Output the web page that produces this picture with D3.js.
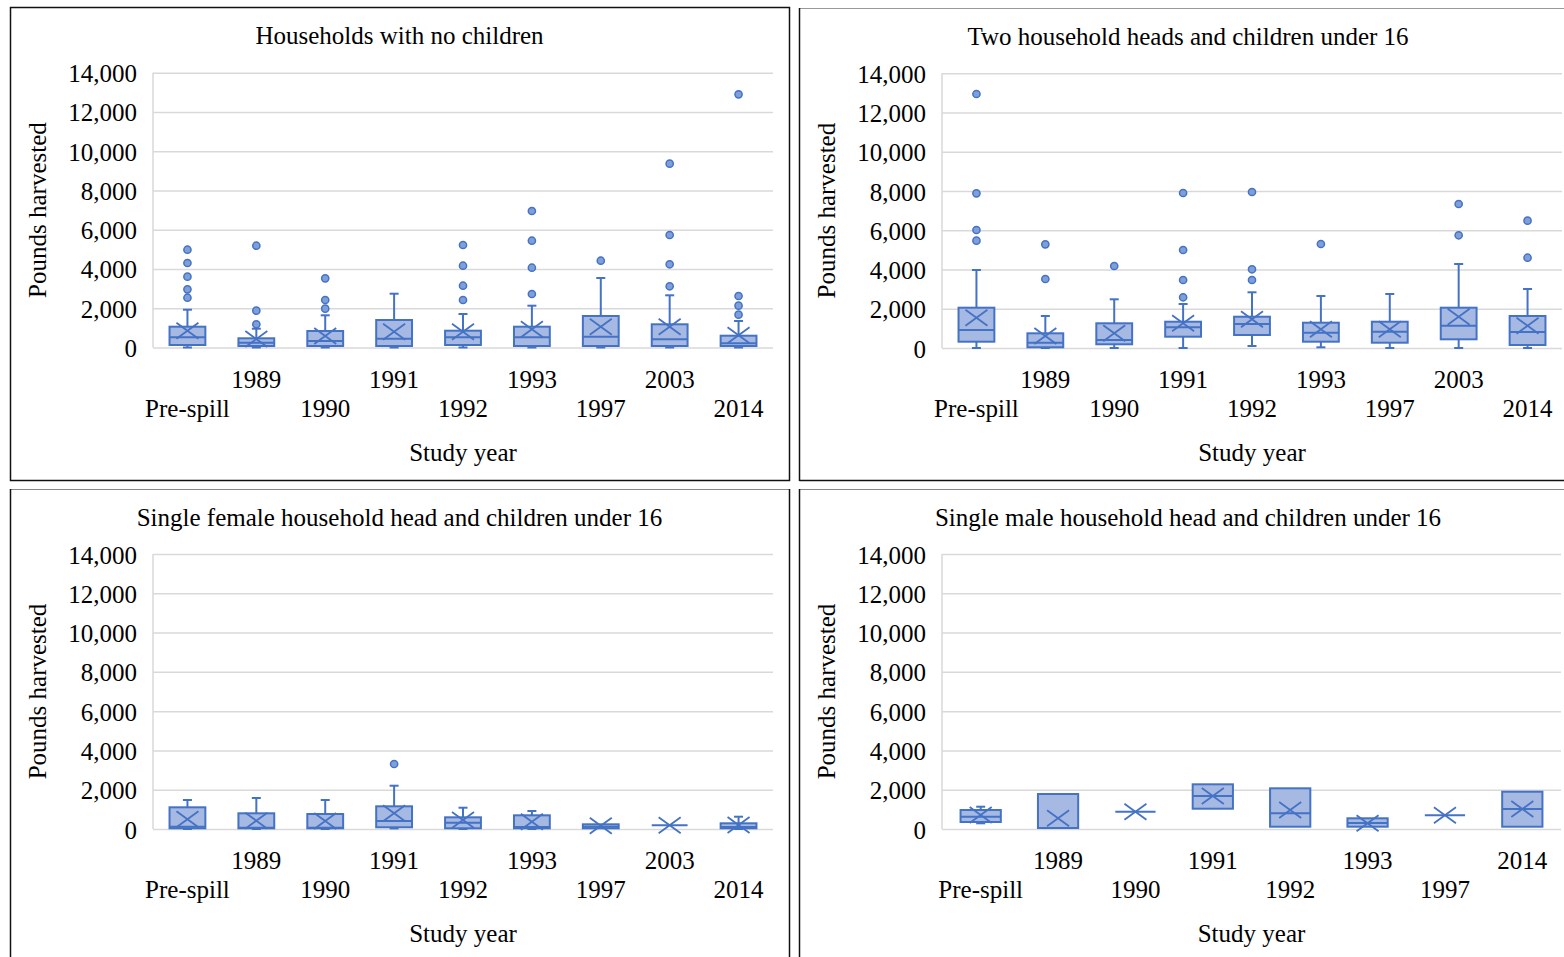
<!DOCTYPE html>
<html>
<head>
<meta charset="utf-8">
<script src="https://cdn.jsdelivr.net/npm/d3@7"></script>
<style>
  html, body { margin: 0; padding: 0; background: #fff; }
  svg { display: block; }
  text { font-family: "Liberation Serif", "Times New Roman", serif; fill: #000; }
</style>
</head>
<body>
<svg id="chart" width="1564" height="957"></svg>
<script>
// ---------------- DATA ----------------
const categoriesAll = ["Pre-spill", "1989", "1990", "1991", "1992", "1993", "1997", "2003", "2014"];
const categoriesMale = ["Pre-spill", "1989", "1990", "1991", "1992", "1993", "1997", "2014"];
const yTickValues = [0, 2000, 4000, 6000, 8000, 10000, 12000, 14000];
const panelTitles = [
  "Households with no children",
  "Two household heads and children under 16",
  "Single female household head and children under 16",
  "Single male household head and children under 16"
];
const xAxisTitle = "Study year";
const yAxisTitle = "Pounds harvested";

// stats per category: [min, q1, median, q3, max(whisker), mean]
const noChildrenStats = [
  [0, 127, 520, 1060, 1926, 856],
  [0, 76, 245, 469, 958, 430],
  [0, 76, 331, 841, 1640, 586],
  [0, 76, 448, 1401, 2741, 805],
  [0, 127, 520, 856, 1707, 805],
  [0, 76, 520, 1060, 2130, 927],
  [0, 76, 550, 1605, 3541, 1060],
  [0, 76, 418, 1182, 2659, 1060],
  [0, 76, 214, 601, 1350, 621]
];
const noChildrenOutliers = [
  [4982, 4305, 3607, 2965, 2537],
  [5186, 1875, 1182],
  [3525, 2420, 1977],
  [],
  [5222, 4167, 3148, 2420],
  [6954, 5441, 4065, 2726],
  [4422],
  [9364, 5731, 4239, 3118],
  [12899, 2624, 2130, 1671]
];

const twoHeadsStats = [
  [0, 321, 917, 2054, 3975, 1544],
  [0, 36, 270, 749, 1631, 612],
  [0, 189, 408, 1259, 2482, 749],
  [0, 576, 1055, 1340, 2243, 1259],
  [102, 663, 1223, 1595, 2839, 1463],
  [36, 321, 780, 1289, 2650, 953],
  [0, 270, 831, 1340, 2752, 953],
  [0, 443, 1137, 2054, 4281, 1595],
  [0, 153, 815, 1631, 3007, 1137]
];
const twoHeadsOutliers = [
  [12945, 7884, 6014, 5469],
  [5285, 3517],
  [4179],
  [7900, 4995, 3466, 2584],
  [7951, 4011, 3466],
  [5300],
  [],
  [7339, 5744],
  [6488, 4602]
];

const singleFemaleStats = [
  [0, 36, 117, 1104, 1476, 494],
  [0, 36, 70, 799, 1578, 422],
  [0, 36, 70, 763, 1476, 407],
  [30, 87, 407, 1155, 2204, 799],
  [0, 36, 321, 595, 1084, 458],
  [0, 36, 100, 697, 916, 372],
  [36, 36, 120, 239, 239, 168],
  [188, 188, 188, 188, 188, 188],
  [0, 36, 100, 290, 626, 204]
];
const singleFemaleOutliers = [[], [], [], [3308], [], [], [], [], []];

const singleMaleStats = [
  [290, 356, 626, 967, 1135, 712],
  [51, 51, 51, 1781, 1781, 545],
  [880, 880, 880, 880, 880, 880],
  [1033, 1033, 1679, 2275, 2275, 1679],
  [117, 117, 799, 2071, 2071, 967],
  [117, 117, 300, 545, 545, 290],
  [697, 697, 697, 697, 697, 697],
  [117, 117, 1018, 1898, 1898, 1018]
];
const singleMaleOutliers = [[], [], [], [], [], [], [], []];

// ---------------- LAYOUT ----------------
const BLUE = "#4472c4";
const FILL = "#a6b9e3";
const GRID = "#d9d9d9";
const FS = 25;

const panels = [
  { title: panelTitles[0], cats: categoriesAll, stats: noChildrenStats, outliers: noChildrenOutliers,
    left: 153, right: 773, y0: 347.5, yTop: 72.7, titleY: 44, cx: 399.5 },
  { title: panelTitles[1], cats: categoriesAll, stats: twoHeadsStats, outliers: twoHeadsOutliers,
    left: 942, right: 1562, y0: 348, yTop: 73.3, titleY: 45, cx: 1188 },
  { title: panelTitles[2], cats: categoriesAll, stats: singleFemaleStats, outliers: singleFemaleOutliers,
    left: 153, right: 773, y0: 829, yTop: 554, titleY: 526, cx: 399.5 },
  { title: panelTitles[3], cats: categoriesMale, stats: singleMaleStats, outliers: singleMaleOutliers,
    left: 942, right: 1561, y0: 829, yTop: 554, titleY: 526, cx: 1188 }
];

const svg = d3.select("#chart");

// frames
const frames = svg.append("g").attr("fill", "none");
frames.append("rect").attr("x", 10.5).attr("y", 7.5).attr("width", 779).attr("height", 473)
  .attr("stroke", "#111").attr("stroke-width", 1.5);
frames.append("line").attr("x1", 799.5).attr("x2", 1564).attr("y1", 8.5).attr("y2", 8.5).attr("stroke", "#999").attr("stroke-width", 1.2);
frames.append("line").attr("x1", 799.5).attr("x2", 799.5).attr("y1", 8).attr("y2", 481).attr("stroke", "#111").attr("stroke-width", 1.5);
frames.append("line").attr("x1", 799.5).attr("x2", 1564).attr("y1", 480.5).attr("y2", 480.5).attr("stroke", "#111").attr("stroke-width", 1.5);
frames.append("line").attr("x1", 10.5).attr("x2", 789.5).attr("y1", 489.5).attr("y2", 489.5).attr("stroke", "#888").attr("stroke-width", 1.2);
frames.append("line").attr("x1", 10.5).attr("x2", 10.5).attr("y1", 489).attr("y2", 957).attr("stroke", "#111").attr("stroke-width", 1.5);
frames.append("line").attr("x1", 789.5).attr("x2", 789.5).attr("y1", 489).attr("y2", 957).attr("stroke", "#111").attr("stroke-width", 1.5);
frames.append("line").attr("x1", 799.5).attr("x2", 1564).attr("y1", 489.5).attr("y2", 489.5).attr("stroke", "#888").attr("stroke-width", 1.2);
frames.append("line").attr("x1", 799.5).attr("x2", 799.5).attr("y1", 489).attr("y2", 957).attr("stroke", "#111").attr("stroke-width", 1.5);

panels.forEach(p => {
  const g = svg.append("g");
  const x = d3.scaleBand().domain(p.cats).range([p.left, p.right]).paddingInner(0).paddingOuter(0);
  const y = d3.scaleLinear().domain([0, 14000]).range([p.y0, p.yTop]);
  const bw = x.bandwidth() * 0.52;
  const capW = 9;

  // gridlines
  const grid = g.append("g").attr("transform", `translate(${p.left},0)`)
    .call(d3.axisLeft(y).tickValues(yTickValues).tickSize(-(p.right - p.left)).tickFormat(""));
  grid.select(".domain").remove();
  grid.selectAll(".tick line").attr("stroke", GRID).attr("stroke-width", 1.5);

  g.append("line").attr("x1", p.left).attr("x2", p.left).attr("y1", y(14000)).attr("y2", y(0))
    .attr("stroke", GRID).attr("stroke-width", 1.5);

  // y labels
  const yAx = g.append("g").attr("transform", `translate(${p.left},0)`)
    .call(d3.axisLeft(y).tickValues(yTickValues).tickSize(0).tickPadding(16).tickFormat(d3.format(",")));
  yAx.select(".domain").remove();
  yAx.selectAll("text").attr("font-size", FS).attr("font-family", "Liberation Serif").attr("fill", "#000")
    .attr("dy", null).attr("y", 9);

  // x labels, staggered
  const xAx = g.append("g").attr("transform", `translate(0,${p.y0})`)
    .call(d3.axisBottom(x).tickSize(0).tickPadding(0));
  xAx.select(".domain").remove();
  xAx.selectAll("text").attr("font-size", FS).attr("font-family", "Liberation Serif").attr("fill", "#000")
    .attr("dy", null)
    .attr("y", (d, i) => (i % 2 === 1 ? 40 : 69));

  // titles
  g.append("text").attr("x", p.cx).attr("y", p.titleY).attr("text-anchor", "middle")
    .attr("font-size", FS).text(p.title);
  g.append("text").attr("x", (p.left + p.right) / 2).attr("y", p.y0 + 113).attr("text-anchor", "middle")
    .attr("font-size", FS).text(xAxisTitle);
  g.append("text").attr("transform", `translate(${p.left - 107},${(p.y0 + p.yTop) / 2}) rotate(-90)`)
    .attr("text-anchor", "middle").attr("font-size", FS).text(yAxisTitle);

  // boxes
  const boxes = g.selectAll("g.box").data(p.cats.map((c, i) => ({ c, s: p.stats[i], o: p.outliers[i] })))
    .join("g").attr("class", "box");

  boxes.each(function (d) {
    const bg = d3.select(this);
    const cx = x(d.c) + x.bandwidth() / 2;
    const [mn, q1, med, q3, mx, mean] = d.s;
    if (mx > q3) {
      bg.append("line").attr("x1", cx).attr("x2", cx).attr("y1", y(q3)).attr("y2", y(mx))
        .attr("stroke", BLUE).attr("stroke-width", 2);
      bg.append("line").attr("x1", cx - capW / 2).attr("x2", cx + capW / 2).attr("y1", y(mx)).attr("y2", y(mx))
        .attr("stroke", BLUE).attr("stroke-width", 2);
    }
    if (mn < q1) {
      bg.append("line").attr("x1", cx).attr("x2", cx).attr("y1", y(q1)).attr("y2", y(mn))
        .attr("stroke", BLUE).attr("stroke-width", 2);
      bg.append("line").attr("x1", cx - capW / 2).attr("x2", cx + capW / 2).attr("y1", y(mn)).attr("y2", y(mn))
        .attr("stroke", BLUE).attr("stroke-width", 2);
    }
    bg.append("rect").attr("x", cx - bw / 2).attr("y", y(q3)).attr("width", bw)
      .attr("height", Math.max(0, y(q1) - y(q3)))
      .attr("fill", FILL).attr("stroke", BLUE).attr("stroke-width", 2);
    bg.append("line").attr("x1", cx - bw / 2).attr("x2", cx + bw / 2).attr("y1", y(med)).attr("y2", y(med))
      .attr("stroke", BLUE).attr("stroke-width", 2);
    const mx0 = cx, my0 = y(mean), hw = 11, hh = 8;
    bg.append("path")
      .attr("d", `M${mx0 - hw},${my0 - hh}L${mx0 + hw},${my0 + hh}M${mx0 - hw},${my0 + hh}L${mx0 + hw},${my0 - hh}`)
      .attr("stroke", BLUE).attr("stroke-width", 1.8).attr("fill", "none");
    bg.selectAll("circle").data(d.o).join("circle")
      .attr("cx", cx).attr("cy", v => y(v)).attr("r", 3.6)
      .attr("fill", "#7f9fdb").attr("stroke", BLUE).attr("stroke-width", 1.5);
  });
});
</script>
</body>
</html>
